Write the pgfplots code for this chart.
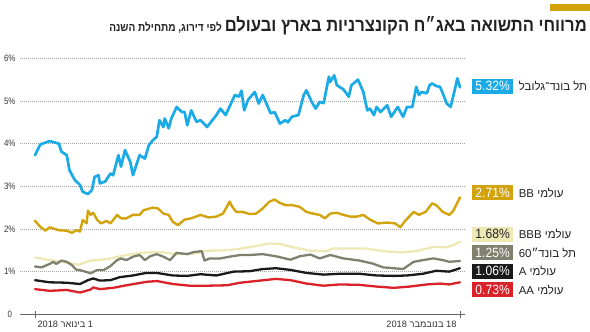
\documentclass[border=0pt]{standalone}
\usepackage{fontspec}
\setmainfont{Liberation Sans}
\newfontfamily\heb[Script=Hebrew]{Liberation Sans}
\newfontfamily\hebc[Script=Hebrew,FakeStretch=0.9]{Liberation Sans}
\newfontfamily\hebs[Script=Hebrew,FakeStretch=0.88]{Liberation Sans}
\newfontfamily\cond[FakeStretch=0.85]{Liberation Sans}
\newfontfamily\condb[FakeStretch=0.9]{Liberation Sans}
\usepackage{pgfplots}
\pgfplotsset{compat=1.18}
\TeXXeTstate=1
\definecolor{cblue}{HTML}{1AAAE6}
\definecolor{cgold}{HTML}{D2A30C}
\definecolor{cpale}{HTML}{EEE8B5}
\definecolor{cgray}{HTML}{80806F}
\definecolor{cblack}{HTML}{1A1A1A}
\definecolor{cred}{HTML}{DA2128}
\definecolor{ctxt}{HTML}{222222}
\begin{document}
\begin{tikzpicture}
\useasboundingbox (0bp,0bp) rectangle (590bp,332bp);
\fill[cgold] (550bp,321.4bp) rectangle (590bp,327.5bp);
\node[anchor=base east, inner sep=0, text=ctxt] at (587bp,300bp) {\hebc\bfseries\fontsize{18.5}{18.5}\selectfont\beginR מרווחי התשואה באג״ח הקונצרניות בארץ ובעולם\endR};
\node[anchor=base east, inner sep=0, text=ctxt] at (222bp,300bp) {\hebs\bfseries\fontsize{11.5}{11.5}\selectfont\beginR לפי דירוג, מתחילת השנה\endR};
\begin{axis}[
  at={(20bp,17.7bp)}, anchor=south west, scale only axis,
  width=445bp, height=256bp,
  xmin=-11.33, xmax=324.8, ymin=0, ymax=6,
  clip=false,
  axis x line*=bottom, axis y line*=left,
  y axis line style={draw=none},
  x axis line style={draw=black!60, line width=0.6bp},
  ytick={1,2,3,4,5,6},
  yticklabels={1\%,2\%,3\%,4\%,5\%,6\%},
  extra y ticks={0}, extra y tick labels={0},
  extra y tick style={grid=none},
  ymajorgrids,
  grid style={draw=black!35, line width=0.6bp, dash pattern=on 1bp off 1bp},
  ytick style={draw=none},
  xtick={0}, xticklabels={{\heb\beginR 1 בינואר 2018\endR}},
  extra x ticks={321}, extra x tick labels={{\heb\beginR 18 בנובמבר 2018\endR}},
  extra x tick style={xticklabel style={anchor=north east, xshift=1bp}},
  xticklabel style={anchor=north west, xshift=-1bp},
  xtick style={draw=black!60, line width=0.6bp},
  tick align=center, major tick length=6.6bp,
  yticklabel style={anchor=center, xshift=-7bp},
  tick label style={font=\cond\fontsize{9.3}{10}\selectfont, text=black!80},
  every axis plot/.append style={line join=round, line cap=round},
]
\addplot[cpale, line width=2.3bp] coordinates {(0,1.33)(11,1.27)(24,1.21)(33,1.16)(42,1.26)(54,1.29)(69,1.39)(79,1.44)(94,1.46)(107,1.41)(120,1.42)(130,1.49)(145,1.50)(155,1.54)(167,1.60)(177,1.66)(185,1.65)(195,1.57)(208,1.49)(220,1.48)(225,1.54)(238,1.54)(250,1.54)(263,1.48)(276,1.45)(288,1.48)(301,1.58)(311,1.57)(316,1.62)(321,1.70)};
\addplot[cgray, line width=2.3bp] coordinates {(0,1.12)(5,1.10)(11,1.18)(14,1.23)(16,1.18)(20,1.26)(24,1.23)(28,1.15)(31,1.05)(36,1.02)(42,0.96)(47,1.04)(52,1.04)(57,1.13)(62,1.27)(65,1.31)(69,1.27)(74,1.35)(79,1.39)(83,1.27)(87,1.36)(92,1.41)(97,1.35)(102,1.27)(107,1.44)(115,1.41)(120,1.46)(126,1.48)(128,1.26)(132,1.31)(140,1.31)(147,1.35)(155,1.39)(162,1.39)(172,1.41)(182,1.36)(193,1.28)(200,1.36)(208,1.40)(215,1.31)(223,1.39)(233,1.31)(245,1.26)(255,1.19)(263,1.10)(271,1.08)(278,1.06)(286,1.23)(293,1.27)(301,1.31)(308,1.27)(313,1.23)(321,1.25)};
\addplot[cblack, line width=2.3bp] coordinates {(0,0.80)(11,0.75)(24,0.74)(34,0.71)(40,0.80)(44,0.84)(49,0.79)(57,0.80)(64,0.87)(74,0.91)(84,0.97)(92,0.97)(104,0.91)(115,0.90)(125,0.94)(137,0.91)(150,1.00)(162,1.01)(172,1.06)(182,1.08)(193,1.04)(205,0.97)(218,0.93)(230,0.95)(245,0.95)(258,0.91)(271,0.90)(281,0.91)(293,0.95)(303,1.02)(313,1.00)(321,1.08)};
\addplot[cred, line width=2.3bp] coordinates {(0,0.59)(11,0.55)(24,0.57)(34,0.51)(42,0.58)(44,0.63)(49,0.59)(59,0.62)(69,0.68)(84,0.76)(92,0.78)(104,0.71)(117,0.67)(130,0.67)(145,0.68)(155,0.74)(170,0.79)(182,0.83)(193,0.80)(205,0.72)(218,0.67)(230,0.70)(245,0.69)(258,0.65)(271,0.62)(283,0.65)(296,0.70)(306,0.72)(313,0.70)(321,0.75)};
\addplot[cgold, line width=2.4bp] coordinates {(0,2.19)(4,2.05)(8,1.96)(11,2.04)(18,1.97)(24,1.96)(28,1.91)(31,1.97)(34,1.94)(36,2.21)(39,2.13)(40,2.43)(42,2.33)(44,2.38)(47,2.21)(50,2.13)(54,2.19)(57,2.13)(62,2.33)(65,2.25)(69,2.25)(74,2.33)(79,2.33)(82,2.44)(89,2.50)(93,2.48)(97,2.36)(101,2.33)(104,2.17)(108,2.09)(113,2.22)(118,2.25)(125,2.33)(131,2.27)(137,2.29)(142,2.36)(147,2.64)(149,2.52)(152,2.40)(157,2.40)(162,2.35)(167,2.36)(172,2.48)(177,2.64)(181,2.69)(185,2.61)(189,2.56)(194,2.56)(200,2.52)(205,2.40)(210,2.36)(215,2.33)(219,2.25)(223,2.36)(228,2.38)(233,2.33)(238,2.29)(243,2.29)(248,2.33)(253,2.22)(259,2.13)(266,2.15)(272,2.13)(276,2.04)(279,2.17)(286,2.40)(290,2.33)(295,2.40)(300,2.60)(303,2.56)(308,2.40)(313,2.33)(316,2.43)(321,2.74)};
\addplot[cblue, line width=2.7bp] coordinates {(0,3.73)(4,3.98)(11,4.06)(18,4.00)(20,3.81)(24,3.73)(26,3.38)(30,3.15)(34,3.03)(36,2.87)(40,2.82)(43,2.91)(45,3.22)(48,3.26)(49,3.07)(53,3.11)(57,3.30)(59,3.26)(63,3.73)(65,3.46)(68,3.85)(72,3.57)(74,3.26)(79,3.73)(83,3.65)(86,3.96)(89,4.08)(92,4.16)(94,4.55)(97,4.39)(98,4.59)(101,4.36)(103,4.59)(107,4.86)(111,4.74)(113,4.74)(115,4.43)(118,4.78)(122,4.51)(125,4.55)(130,4.39)(135,4.59)(137,4.67)(140,4.82)(144,4.67)(151,5.14)(154,5.10)(156,5.24)(158,4.78)(161,5.03)(166,5.21)(169,4.94)(172,5.14)(178,4.71)(181,4.74)(185,4.47)(189,4.55)(191,4.50)(194,4.63)(199,4.67)(203,5.14)(205,5.25)(209,4.98)(212,4.82)(215,4.98)(218,4.95)(222,5.57)(223,5.45)(226,5.60)(228,5.37)(233,5.27)(237,5.10)(239,5.37)(244,5.50)(248,5.21)(251,4.78)(253,4.82)(256,4.67)(258,4.86)(261,4.74)(266,4.90)(269,4.63)(274,4.86)(278,4.63)(281,4.86)(285,4.86)(288,5.33)(290,5.14)(292,5.21)(296,5.18)(298,5.37)(300,5.41)(303,5.35)(306,5.33)(308,5.18)(311,4.94)(314,4.86)(315,5.00)(317,5.25)(319,5.53)(321,5.32)};
% labels
\tikzset{valbox/.style={anchor=west, inner sep=0, minimum width=41.6bp, minimum height=15bp, font=\condb\fontsize{13.5}{14}\selectfont},
  namelbl/.style={anchor=west, inner sep=0, text=ctxt, font=\heb\fontsize{11.5}{12}\selectfont}}
\node[valbox, fill=cblue, text=white] (b1) at (axis cs:329.8,5.35) {5.32\%};
\node[namelbl] at ([xshift=5bp]b1.east) {\beginR תל בונד־גלובל\endR};
\node[valbox, fill=cgold, text=white] (b2) at (axis cs:329.8,2.85) {2.71\%};
\node[namelbl] at ([xshift=5bp]b2.east) {\beginR עולמי BB\endR};
\node[valbox, fill=cpale, text=ctxt] (b3) at (axis cs:329.8,1.88) {1.68\%};
\node[namelbl] at ([xshift=5bp]b3.east) {\beginR עולמי BBB\endR};
\node[valbox, fill=cgray, text=white] (b4) at (axis cs:329.8,1.44) {1.25\%};
\node[namelbl] at ([xshift=5bp]b4.east) {\beginR תל בונד״\beginL 60\endL\endR};
\node[valbox, fill=cblack, text=white] (b5) at (axis cs:329.8,1.01) {1.06\%};
\node[namelbl] at ([xshift=5bp]b5.east) {\beginR עולמי A\endR};
\node[valbox, fill=cred, text=white] (b6) at (axis cs:329.8,0.57) {0.73\%};
\node[namelbl] at ([xshift=5bp]b6.east) {\beginR עולמי AA\endR};
\end{axis}
\end{tikzpicture}
\end{document}
